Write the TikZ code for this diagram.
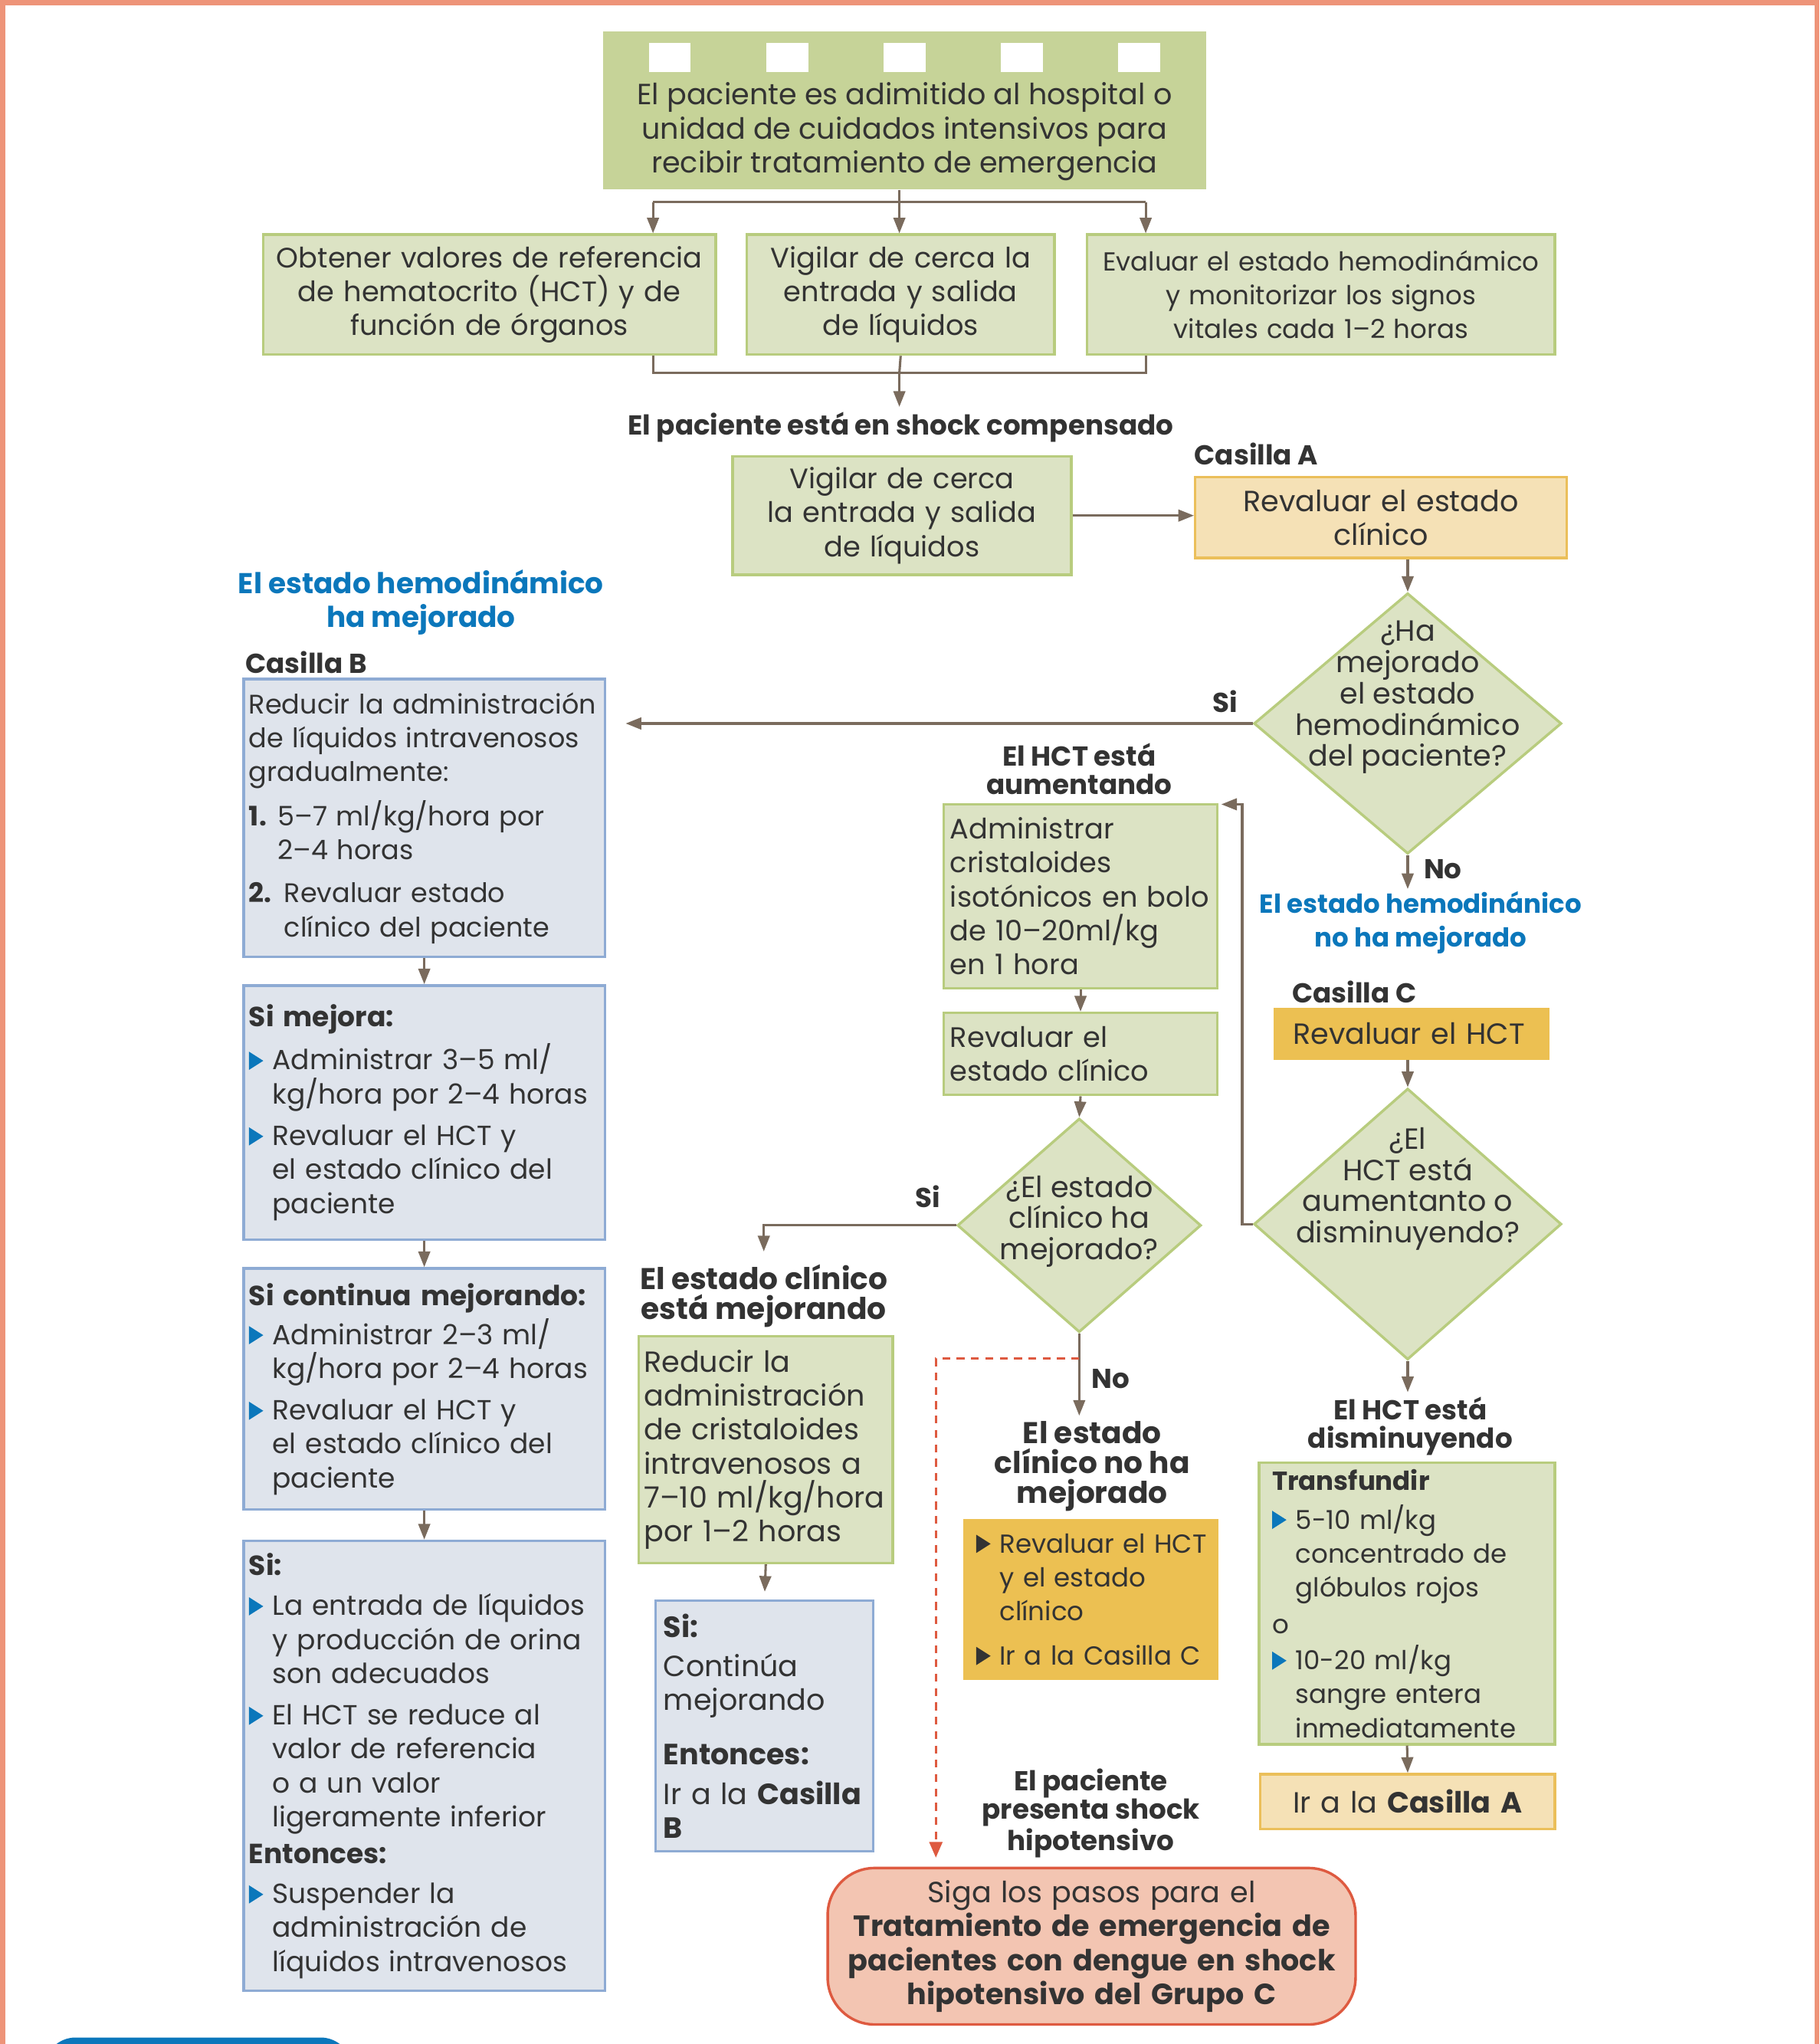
\documentclass[tikz,border=0pt]{standalone}
\usepackage{fontspec}
\setmainfont{Poppins}
\usetikzlibrary{arrows.meta,shapes.geometric,positioning}
\definecolor{dgframe}{HTML}{EE9479}
\definecolor{dgolive}{HTML}{C6D398}
\definecolor{dglight}{HTML}{DCE3C4}
\definecolor{dgline}{HTML}{B8CC7E}
\definecolor{dgsky}{HTML}{DFE4EC}
\definecolor{dgsteel}{HTML}{8EABD4}
\definecolor{dgtan}{HTML}{F5E1B6}
\definecolor{dggold}{HTML}{EBBF5A}
\definecolor{dgamber}{HTML}{ECC052}
\definecolor{dgblue}{HTML}{0B77BB}
\definecolor{dgrose}{HTML}{F3C5B2}
\definecolor{dgred}{HTML}{DE5A40}
\definecolor{dgarrow}{HTML}{7A6B5D}
\definecolor{dgtext}{HTML}{333333}
\newcommand{\dgbody}{\fontsize{10}{13}\selectfont}
\newcommand{\dgcasb}{\fontsize{10.3}{13}\selectfont}
\newcommand{\dgleft}{\fontsize{10.6}{13}\selectfont}
\newcommand{\dgmid}{\fontsize{10.8}{13}\selectfont}
\newcommand{\dgbig}{\fontsize{11.2}{13}\selectfont}
\newcommand{\dgdia}{\fontsize{11.2}{12}\selectfont}
\newcommand{\dglbl}{\fontsize{10.5}{11}\selectfont\bfseries}
\newcommand{\dglblwide}{\fontsize{11.5}{11.5}\selectfont\bfseries}
\newcommand{\dgbluefont}{\fontsize{11}{13}\selectfont\bfseries}
\newcommand{\dgbluenarrow}{\fontsize{10}{13}\selectfont\bfseries}
\newcommand{\tri}[1][dgblue]{\makebox[9pt][l]{\tikz[baseline=0pt]\fill[#1] (0pt,0pt) -- (0pt,7pt) -- (5.5pt,3.5pt) -- cycle;}}

\begin{document}
\begin{tikzpicture}[x=0.5pt, y=-0.5pt,
  every node/.style={text=dgtext, inner sep=0pt},
  sz/.code n args={3}{\pgfmathsetlengthmacro\bw{#1*0.5pt}\pgfmathsetlengthmacro\bh{#2*0.5pt}\pgfmathsetlengthmacro\tw{(#1-2*#3)*0.5pt}\edef\tmp{\noexpand\tikzset{minimum width=\bw,minimum height=\bh,text width=\tw}}\tmp},
  box/.style={anchor=north west, line width=1pt, font=\dgbody},
  grnbox/.style={box, fill=dglight, draw=dgline},
  blubox/.style={box, fill=dgsky, draw=dgsteel},
  tanbox/.style={box, fill=dgtan, draw=dggold},
  ambbox/.style={box, fill=dgamber, draw=dgamber},
  dia/.style={diamond, fill=dglight, draw=dgline, line width=1pt},
  diatext/.style={font=\dgdia, align=center},
  lbl/.style={font=\dglbl, align=center},
  bluelbl/.style={font=\dgbluefont, text=dgblue, align=center},
  ln/.style={draw=dgarrow, line width=0.9pt},
  arr/.style={ln, -{Triangle[length=6pt,width=4.5pt]}},
  redash/.style={draw=dgred, line width=0.8pt, dash pattern=on 3pt off 2.5pt, -{Triangle[length=6pt,width=5pt]}}]
  \useasboundingbox (0,0) rectangle (1396,1568);
  % frame
  \fill[dgframe] (0,0) rectangle (1396,4);
  \fill[dgframe] (0,0) rectangle (4,1568);
  \fill[dgframe] (1392,0) rectangle (1396,1568);
  \fill[dgblue, rounded corners=12pt] (34,1563) rectangle (270,1620);

  % admission
  \node[anchor=north west, fill=dgolive, sz={463}{121}{0}] (top) at (462,24) {};
  \foreach \sx in {498,588,678,768,858}
    \fill[white] (\sx,33) rectangle ++(32,22);
  \node[font=\dgbig, align=center] (toptxt) at (694,101) {El paciente es adimitido al hospital o\\unidad de cuidados intensivos para\\recibir tratamiento de emergencia};

  \node[grnbox, sz={347}{92}{4}, align=center, font=\dgmid] (hct) at (201,179) {Obtener valores de referencia\\de hematocrito (HCT) y de\\función de órganos};
  \node[grnbox, sz={236}{92}{4}, align=center, font=\dgmid] (liq) at (572,179) {Vigilar de cerca la\\entrada y salida\\de líquidos};
  \node[grnbox, sz={359}{92}{4}, align=center] (hem) at (833,179) {Evaluar el estado hemodinámico\\y monitorizar los signos\\vitales cada 1–2 horas};

  \coordinate (fk) at (690,155);
  \coordinate (fkl) at (501,155);
  \coordinate (fkr) at (879,155);
  \draw[ln] (top.south -| fk) -- (fk);
  \draw[ln] (fkl) -- (fkr);
  \draw[arr] (fkl) -- (fkl |- hct.north);
  \draw[arr] (fk) -- (fk |- liq.north);
  \draw[arr] (fkr) -- (fkr |- hem.north);

  \coordinate (jn) at (690,286);
  \coordinate (jnl) at (501,286);
  \coordinate (jnr) at (879,286);
  \draw[ln] (jnl |- hct.south) -- (jnl) -- (jnr) -- (jnr |- hem.south);
  \draw[ln] (liq.south) -- (jn);
  \node[lbl] (comp) at (691,328) {El paciente está en shock compensado};
  \draw[arr, shorten >=2pt] (jn) -- (jn |- comp.north);

  \node[grnbox, sz={260}{91}{4}, align=center, font=\dgmid] (liq2) at (561,349) {Vigilar de cerca\\la entrada y salida\\de líquidos};
  \node[lbl, anchor=west] (casAl) at (916,348) {Casilla A};
  \node[tanbox, sz={285}{62}{4}, align=center, font=\dgbig] (casA) at (916,365) {Revaluar el estado\\clínico};
  \draw[arr] (liq2.east) -- (liq2.east -| casA.west);

  % hemodynamic question
  \node[dia, minimum width=118pt, minimum height=100pt] (d1) at (1080,555) {};
  \node[diatext] (d1t) at (1080,535) {¿Ha\\mejorado\\el estado\\hemodinámico\\del paciente?};
  \draw[arr] (d1.north |- casA.south) -- (d1.north);
  \coordinate (siB) at (480,555);
  \draw[arr] (d1.west) -- (siB);
  \node[lbl] (si1) at (940,538) {Si};
  \coordinate (no1) at (1080,682);
  \draw[arr] (d1.south) -- (no1);
  \node[lbl, anchor=west] (no1l) at (1092,667) {No};

  % not improved
  \node[bluelbl, font=\dgbluenarrow] (hnm) at (1090,708) {El estado hemodinánico\\no ha mejorado};
  \node[lbl, anchor=west] (casCl) at (991,761) {Casilla C};
  \node[ambbox, sz={210}{38}{14}, align=left, font=\dgbig] (casC) at (977,773) {Revaluar el HCT};
  \node[dia, minimum width=118pt, minimum height=104pt] (d2) at (1080,939) {};
  \node[diatext] (d2t) at (1080,912) {¿El\\HCT está\\aumentanto o\\disminuyendo?};
  \draw[arr] (d2.north |- casC.south) -- (d2.north);

  \node[lbl] (hau) at (828,590) {El HCT está\\aumentando};
  \node[grnbox, sz={210}{141}{5}, align=left, font=\dgmid] (adm) at (723,616) {Administrar\\cristaloides\\isotónicos en bolo\\de 10–20ml/kg\\en 1 hora};
  \node[grnbox, sz={210}{63}{5}, align=left, font=\dgmid] (rev) at (723,776) {Revaluar el\\estado clínico};
  \draw[arr] (adm.south) -- (rev.north);
  \coordinate (fb) at (953,617);
  \draw[arr, shorten >=1pt] (d2.west) -| (fb) -- (fb -| adm.east);

  \node[dia, minimum width=93.5pt, minimum height=82pt] (d3) at (828,940) {};
  \node[diatext] (d3t) at (828,937) {¿El estado\\clínico ha\\mejorado?};
  \draw[arr] (rev.south) -- (d3.north);

  % clinical improving
  \node[lbl] (si3) at (712,918) {Si};
  \coordinate (si3t) at (586,960);
  \draw[arr] (d3.west) -| (si3t);
  \node[lbl, font=\dglblwide] (cme) at (586,994) {El estado clínico\\está mejorando};
  \node[grnbox, sz={195}{174}{4}, align=left, font=\dgbig] (redc) at (489,1024) {Reducir la\\administración\\de cristaloides\\intravenosos a\\\mbox{7–10 ml/kg/hora}\\por 1–2 horas};
  \node[blubox, sz={167}{192}{6}, align=left, font=\dgbig] (sib) at (502,1227) {\textbf{Si:}\\[2pt]Continúa\\mejorando\\[8pt]\textbf{Entonces:}\\[2pt]Ir a la \textbf{Casilla}\\\textbf{B}};
  \draw[arr, shorten >=3pt] (redc.south) -- (sib.north);

  % clinical not improving
  \node[lbl, anchor=west] (no3l) at (837,1058) {No};
  \coordinate (no3) at (828,1086);
  \draw[arr] (d3.south) -- (no3);
  \coordinate (dsh) at (718,1042);
  \coordinate (dsht) at (718,1425);
  \draw[redash] (d3.south |- dsh) -- (dsh) -- (dsht);
  \node[lbl, font=\dglblwide] (cnm) at (838,1125) {El estado\\clínico no ha\\mejorado};
  \node[ambbox, sz={194}{122}{9}, align=left, font=\dgbody] (yel) at (739,1165) {\mbox{\tri[dgtext]Revaluar el HCT}\\\hspace*{9pt}y el estado\\\hspace*{9pt}clínico\\[4pt]\mbox{\tri[dgtext]Ir a la Casilla C}};
  \node[lbl] (hip) at (837,1391) {El paciente\\presenta shock\\hipotensivo};
  \node[draw=dgred, fill=dgrose, line width=1pt, rounded corners=18pt, anchor=north west, sz={405}{120}{10}, align=center, font=\dgbig] (fin) at (634,1432) {Siga los pasos para el\\\textbf{Tratamiento de emergencia de}\\\textbf{pacientes con dengue en shock}\\\textbf{hipotensivo del Grupo C}};

  % HCT decreasing
  \coordinate (no2) at (1080,1068);
  \draw[arr] (d2.south) -- (no2);
  \node[lbl] (hdis) at (1082,1094) {El HCT está\\disminuyendo};
  \node[grnbox, sz={227}{216}{10}, align=left] (trans) at (965,1121) {\textbf{Transfundir}\\[2pt]\tri 5-10 ml/kg\\\hspace*{9pt}concentrado de\\\hspace*{9pt}glóbulos rojos\\[1pt]o\\[1pt]\tri 10-20 ml/kg\\\hspace*{9pt}sangre entera\\\hspace*{9pt}inmediatamente};
  \node[tanbox, sz={226}{42}{4}, align=center, font=\dgbig] (goA) at (966,1360) {Ir a la \textbf{Casilla A}};
  \draw[arr] (trans.south) -- (goA.north);

  % hemodynamic improved
  \node[bluelbl] (hm) at (323,462) {El estado hemodinámico\\ha mejorado};
  \node[lbl, anchor=west] (casBl) at (188,508) {Casilla B};
  \node[blubox, sz={277}{213}{4}, align=left, font=\dgcasb] (casB) at (186,520) {\mbox{Reducir la administración}\\de líquidos intravenosos\\gradualmente:\\[4pt]\makebox[11pt][l]{\textbf{1.}}5–7 ml/kg/hora por\\\hspace*{11pt}2–4 horas\\[3.5pt]\makebox[13.5pt][l]{\textbf{2.}}Revaluar estado\\\hspace*{13.5pt}clínico del paciente};
  \node[blubox, sz={277}{195}{4}, align=left, font=\dgleft] (smj) at (186,755) {\textbf{Si mejora:}\\[3.5pt]\tri Administrar 3–5 ml/\\\hspace*{9pt}kg/hora por 2–4 horas\\[3pt]\tri Revaluar el HCT y\\\hspace*{9pt}el estado clínico del\\\hspace*{9pt}paciente};
  \node[blubox, sz={277}{185}{4}, align=left, font=\dgleft] (scm) at (186,972) {\textbf{Si continua mejorando:}\\[2pt]\tri Administrar 2–3 ml/\\\hspace*{9pt}kg/hora por 2–4 horas\\[3pt]\tri Revaluar el HCT y\\\hspace*{9pt}el estado clínico del\\\hspace*{9pt}paciente};
  \node[blubox, sz={277}{345}{4}, align=left, font=\dgleft] (sis) at (186,1181) {\textbf{Si:}\\[2.5pt]\tri La entrada de líquidos\\\hspace*{9pt}y producción de orina\\\hspace*{9pt}son adecuados\\[3pt]\tri El HCT se reduce al\\\hspace*{9pt}valor de referencia\\\hspace*{9pt}o a un valor\\\hspace*{9pt}ligeramente inferior\\[1pt]\textbf{Entonces:}\\[2.5pt]\tri Suspender la\\\hspace*{9pt}administración de\\\hspace*{9pt}\mbox{líquidos intravenosos}};
  \draw[arr] (casB.south) -- (smj.north);
  \draw[arr] (smj.south) -- (scm.north);
  \draw[arr] (scm.south) -- (sis.north);
\end{tikzpicture}
\end{document}
